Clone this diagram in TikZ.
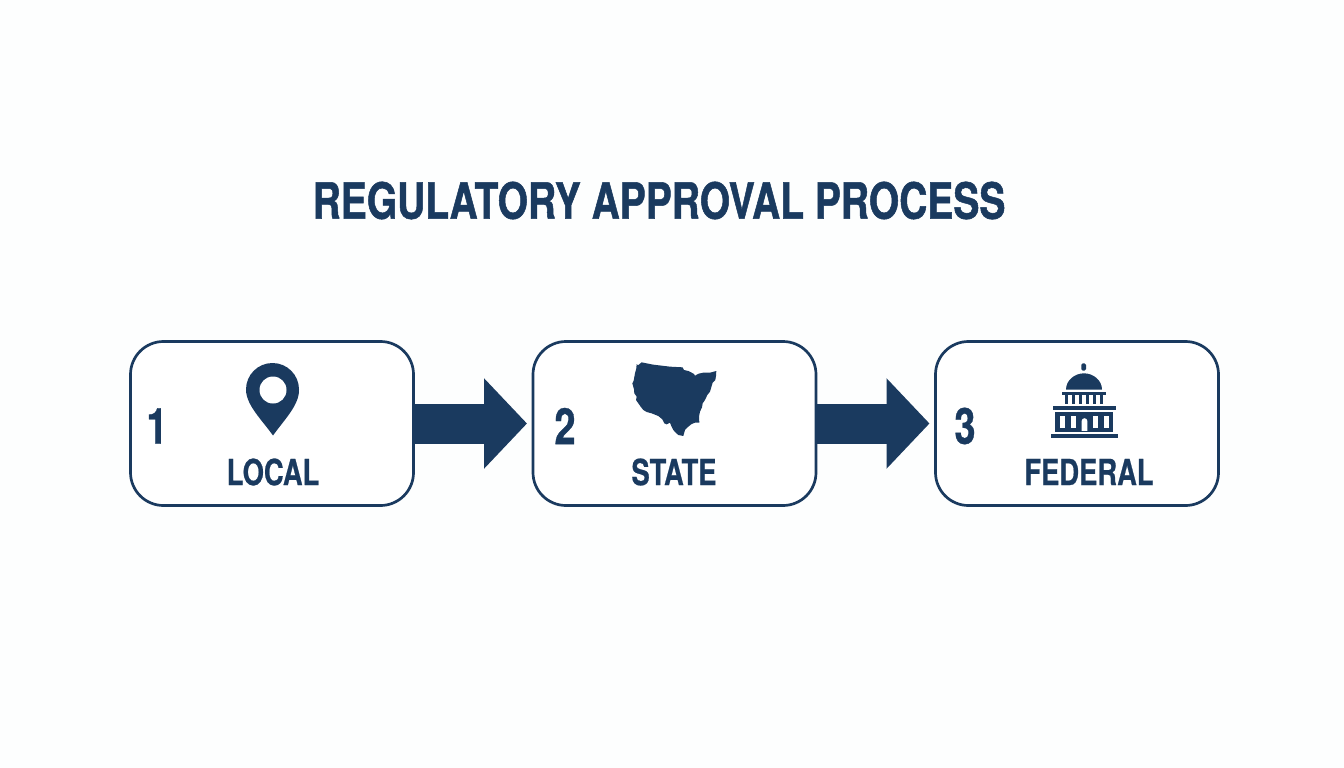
\documentclass[tikz,border=0pt]{standalone}
\usepackage{fontspec}
\usetikzlibrary{arrows.meta}
\newfontfamily\titlefont[FakeStretch=0.78,FakeBold=1.0]{TeX Gyre Heros Bold}
\newfontfamily\labfont[FakeStretch=0.76,FakeBold=0.6]{TeX Gyre Heros Bold}
\definecolor{navy}{HTML}{1A3A5F}
\definecolor{paper}{HTML}{FDFEFE}
\tikzset{
  stagebox/.style={draw=navy,line width=2.7pt,rounded corners=33pt,fill=white,minimum width=283pt,minimum height=164pt,inner sep=0pt,outer sep=0pt},
  flow/.style={draw=navy,line width=40pt,shorten >=6pt,-{Triangle[length=43pt,width=88pt]}},
  numlabel/.style={text=navy,inner sep=0pt,font=\labfont\fontsize{50}{50}\selectfont},
  stagelabel/.style={text=navy,inner sep=0pt,font=\labfont\fontsize{36}{36}\selectfont},
  titlelabel/.style={text=navy,inner sep=0pt,font=\titlefont\fontsize{50}{50}\selectfont},
  ink/.style={fill=navy,draw=none},
  hole/.style={fill=white,draw=none}
}
\begin{document}
\begin{tikzpicture}[x=1pt,y=-1pt]
\useasboundingbox (0,0) rectangle (1344,768);
\fill[paper] (0,0) rectangle (1344,768);
\node[titlelabel] (title) at (659,200.5) {REGULATORY APPROVAL PROCESS};
% boxes
\node[stagebox] (b1) at (272,423.5) {};
\node[stagebox] (b2) at (674.5,423.5) {};
\node[stagebox] (b3) at (1077,423.5) {};
% connectors
\draw[flow] (b1.east) -- (b2.west);
\draw[flow] (b2.east) -- (b3.west);
% numbers
\node[numlabel] (n1) at (157,426) {1};
\node[numlabel] (n2) at (565,426) {2};
\node[numlabel] (n3) at (965,426) {3};
% labels
\node[stagelabel] (l1) at (273,472) {LOCAL};
\node[stagelabel] (l2) at (674,472) {STATE};
\node[stagelabel] (l3) at (1089,472) {FEDERAL};
% pin
\fill[ink] (273,435.5) .. controls (262,420) and (246,405) .. (246,389.5)
  arc[start angle=180,end angle=360,radius=26.5]
  .. controls (299.5,405) and (284,420) .. cycle;
\fill[hole] (273,390) circle[radius=13.5];
% state map
\begin{scope}[shift={(610,350)},x=0.3333pt,y=-0.3333pt]
\fill[ink] (80,42)--(84,46)--(95,37)--(130,44)--(180,50)--(218,52)--(222,60)--(235,63)--(245,68)--(252,72)--(255,77)--(266,71)--(280,68)--(300,68)--(319,63)--(318,78)--(316,90)--(308,98)--(305,108)--(300,125)--(292,135)--(285,150)--(278,160)--(276,172)--(270,185)--(267,200)--(268,218)--(255,218)--(245,222)--(235,230)--(225,240)--(220,258)--(205,255)--(197,248)--(190,240)--(184,228)--(180,218)--(170,223)--(163,220)--(157,208)--(145,198)--(125,190)--(110,186)--(100,180)--(92,170)--(85,160)--(78,150)--(80,140)--(73,130)--(72,118)--(67,100)--(71,92)--(75,70)--(79,55)--cycle;
\end{scope}
% capitol
\begin{scope}[shift={(1030,355)},x=0.3333pt,y=-0.3333pt]
\fill[ink,rounded corners=1.5pt] (154,25) rectangle (168,47);
\fill[ink] (108,104) .. controls (108,75) and (135,55) .. (162,55) .. controls (189,55) and (216,75) .. (216,104) -- cycle;
\fill[ink] (97,112) rectangle (227,120);
\foreach \cx in {105,126,147,168,189,210}
  \fill[ink] (\cx,120) rectangle ++(10,28);
\fill[ink] (68,154) rectangle (258,166);
\fill[ink] (75,172) rectangle (250,232);
\foreach \wx in {91,123,190,222}
  \fill[hole] (\wx,183) rectangle ++(15,35);
\fill[hole] (155,228) -- (155,198) .. controls (155,187) and (172,187) .. (172,198) -- (172,228) -- cycle;
\fill[ink] (62,237) rectangle (264,249);
\end{scope}
\end{tikzpicture}
\end{document}
